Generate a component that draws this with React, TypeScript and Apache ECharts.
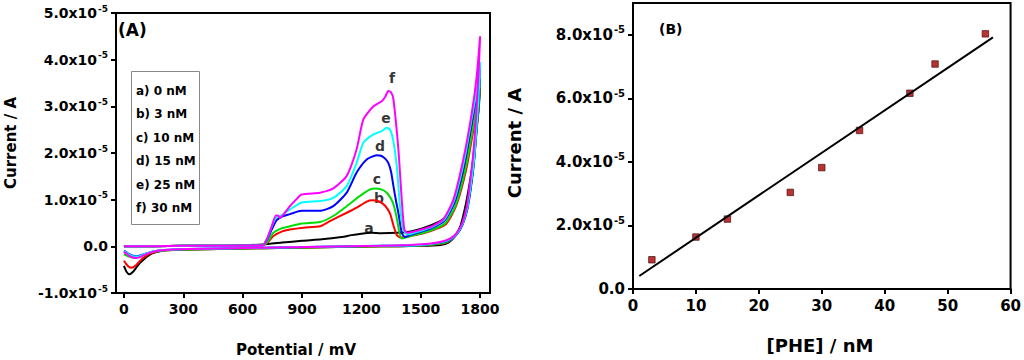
import { useEffect, useRef } from "react";
import * as echarts from "echarts";

// ---------- Panel A data (potential in mV, current in units of 1e-5 A) ----------
const potentialTicks = [0, 300, 600, 900, 1200, 1500, 1800];
const currentTicksA = [-1, 0, 1, 2, 3, 4, 5];
const curveNames = ["a", "b", "c", "d", "e", "f"];
const concLabels = ["a) 0 nM", "b) 3 nM", "c) 10 nM", "d) 15 nM", "e) 25 nM", "f) 30 nM"];

const fwdA = [[0,0],[150,0],[300,0.01],[450,0.01],[600,0.02],[700,0.04],[800,0.08],[900,0.12],[1000,0.15],[1100,0.2],[1150,0.24],[1200,0.27],[1250,0.29],[1300,0.28],[1380,0.29],[1450,0.32],[1550,0.45],[1625,0.62],[1675,1.0],[1725,1.75],[1765,2.65],[1789,3.1],[1800,3.4]];
const revA = [[1792,2.9],[1775,2.3],[1760,1.7],[1741,1.2],[1720,0.75],[1700,0.43],[1670,0.2],[1640,0.08],[1600,0.03],[1500,0.01],[1300,0],[1000,-0.02],[700,-0.04],[400,-0.06],[250,-0.08],[200,-0.09],[160,-0.13],[131,-0.18],[100,-0.28],[80,-0.36],[60,-0.47],[45,-0.55],[28,-0.6],[14,-0.55],[0,-0.42]];

const fwdB = [[0,0],[150,0],[300,0.01],[450,0.01],[600,0.02],[700,0.02],[730,0.1],[755,0.22],[800,0.32],[839,0.36],[907,0.4],[991,0.43],[1041,0.54],[1126,0.72],[1176,0.83],[1227,0.96],[1255,0.99],[1290,0.96],[1320,0.87],[1345,0.7],[1362,0.45],[1378,0.25],[1395,0.19],[1450,0.22],[1550,0.33],[1628,0.48],[1680,0.88],[1730,1.65],[1768,2.55],[1790,3.15],[1800,3.55]];
const revB = [[1793,3.0],[1781,2.4],[1767,1.75],[1750,1.2],[1731,0.76],[1708,0.45],[1680,0.25],[1648,0.12],[1612,0.06],[1500,0.02],[1300,0],[1000,-0.02],[700,-0.04],[400,-0.06],[250,-0.08],[200,-0.09],[160,-0.12],[130,-0.16],[100,-0.24],[80,-0.32],[60,-0.41],[39,-0.46],[22,-0.43],[10,-0.37],[0,-0.31]];

const fwdC = [[0,0],[150,0],[300,0.01],[450,0.01],[600,0.02],[700,0.02],[730,0.12],[755,0.29],[800,0.39],[839,0.43],[898,0.49],[991,0.52],[1058,0.65],[1126,0.86],[1193,1.08],[1244,1.22],[1269,1.24],[1300,1.22],[1328,1.15],[1350,1.02],[1365,0.86],[1380,0.58],[1392,0.3],[1404,0.17],[1450,0.22],[1550,0.34],[1625,0.5],[1678,0.9],[1728,1.7],[1766,2.6],[1789,3.2],[1800,3.6]];
const revC = [[1793,3.05],[1781,2.45],[1768,1.8],[1751,1.22],[1733,0.78],[1710,0.46],[1682,0.26],[1650,0.13],[1615,0.07],[1500,0.02],[1300,0],[1000,-0.02],[700,-0.04],[400,-0.06],[250,-0.08],[200,-0.09],[160,-0.11],[130,-0.14],[100,-0.19],[75,-0.23],[47,-0.24],[25,-0.22],[10,-0.19],[0,-0.17]];

const fwdD = [[0,0],[150,0],[300,0.01],[450,0.01],[600,0.02],[700,0.02],[725,0.15],[747,0.36],[772,0.56],[800,0.64],[839,0.69],[898,0.76],[991,0.76],[1058,0.86],[1126,1.15],[1176,1.58],[1227,1.86],[1277,1.95],[1299,1.94],[1320,1.88],[1336,1.79],[1350,1.6],[1362,1.29],[1376,0.95],[1387,0.72],[1404,0.29],[1420,0.2],[1450,0.25],[1550,0.38],[1620,0.55],[1672,0.95],[1722,1.8],[1762,2.75],[1787,3.35],[1800,3.9]];
const revD = [[1793,3.2],[1782,2.5],[1769,1.8],[1753,1.25],[1736,0.8],[1712,0.47],[1685,0.27],[1652,0.15],[1617,0.09],[1500,0.03],[1300,0.01],[1000,-0.01],[700,-0.03],[400,-0.05],[250,-0.07],[200,-0.08],[160,-0.1],[130,-0.13],[100,-0.17],[80,-0.2],[64,-0.21],[45,-0.2],[25,-0.16],[10,-0.12],[0,-0.1]];

const fwdE = [[0,0],[150,0],[300,0.01],[450,0.01],[600,0.02],[700,0.02],[725,0.18],[747,0.43],[768,0.61],[789,0.65],[839,0.79],[898,0.94],[991,0.97],[1058,1.04],[1126,1.29],[1176,1.79],[1210,2.22],[1261,2.4],[1303,2.47],[1328,2.54],[1345,2.5],[1360,2.3],[1379,1.72],[1395,0.86],[1412,0.36],[1429,0.26],[1450,0.27],[1550,0.4],[1620,0.58],[1670,1.0],[1720,1.85],[1760,2.8],[1785,3.4],[1800,3.95]];
const revE = [[1793,3.25],[1782,2.55],[1769,1.85],[1752,1.28],[1735,0.82],[1711,0.48],[1684,0.28],[1651,0.16],[1616,0.1],[1500,0.03],[1300,0.01],[1000,-0.01],[700,-0.03],[400,-0.05],[250,-0.07],[200,-0.08],[160,-0.1],[130,-0.13],[100,-0.17],[80,-0.21],[64,-0.22],[45,-0.21],[25,-0.17],[10,-0.13],[0,-0.11]];

const fwdF = [[0,0],[150,0],[300,0.01],[450,0.01],[600,0.02],[700,0.02],[725,0.18],[747,0.43],[768,0.66],[779,0.66],[789,0.61],[810,0.7],[839,0.86],[870,1.0],[898,1.11],[991,1.15],[1058,1.24],[1126,1.51],[1176,2.08],[1210,2.72],[1261,3.0],[1303,3.11],[1320,3.2],[1336,3.33],[1350,3.3],[1362,3.15],[1387,2.08],[1404,1.0],[1417,0.36],[1432,0.29],[1450,0.3],[1550,0.42],[1614,0.58],[1665,1.0],[1715,1.86],[1758,2.86],[1783,3.65],[1800,4.5]];
const revF = [[1792,3.7],[1780,2.8],[1766,2.0],[1750,1.4],[1733,0.86],[1710,0.5],[1682,0.29],[1650,0.17],[1614,0.11],[1550,0.06],[1450,0.03],[1300,0.01],[1000,-0.01],[700,-0.03],[400,-0.05],[250,-0.07],[180,-0.09],[130,-0.14],[100,-0.19],[80,-0.23],[64,-0.25],[45,-0.24],[25,-0.2],[10,-0.15],[0,-0.12]];

const curveLabelPos = [[1239, 0.39], [1289, 1.03], [1279, 1.44], [1294, 2.14], [1325, 2.74], [1355, 3.6]];

// ---------- Panel B data ([PHE] in nM, current in units of 1e-5 A) ----------
const pheConc = [3, 10, 15, 25, 30, 36, 44, 48, 56];
const pheCurrent = [0.92, 1.635, 2.2, 3.04, 3.82, 4.99, 6.16, 7.08, 8.03];
const fitLine = [[1, 0.41], [57.2, 7.92]];
const concTicks = [0, 10, 20, 30, 40, 50, 60];
const currentTicksB = [0, 2, 4, 6, 8];

// ---------- styles ----------
const curveColors = ["#000000", "#ff0000", "#00dd00", "#0000ff", "#00ffff", "#ff00ff"];
const FONT = "DejaVu Sans";

export default function App() {
  const ref = useRef<HTMLDivElement>(null);
  useEffect(() => {
    if (!ref.current) return;
    const chart = echarts.init(ref.current, undefined, { renderer: "svg" });
    const loops = [
      [fwdA, revA], [fwdB, revB], [fwdC, revC], [fwdD, revD], [fwdE, revE], [fwdF, revF],
    ];
    const yFmt = (v: number) => (Math.abs(v) < 1e-9 ? "{b|0.0}" : `{b|${v.toFixed(1)}x10}{s|-5}`);
    const xFmt = (v: number) => String(v);
    const richA = {
      b: { fontFamily: FONT, fontWeight: "bold", fontSize: 14, color: "#000", lineHeight: 18 },
      s: { fontFamily: FONT, fontWeight: "bold", fontSize: 9, color: "#000", verticalAlign: "top", padding: [0, 0, 0, 1] },
    };
    const richB = {
      b: { fontFamily: FONT, fontWeight: "bold", fontSize: 15, color: "#000", lineHeight: 20 },
      s: { fontFamily: FONT, fontWeight: "bold", fontSize: 10, color: "#000", verticalAlign: "top", padding: [0, 0, 0, 1] },
    };
    const axisCommon = {
      axisLine: { show: true, onZero: false, lineStyle: { color: "#000", width: 2 } },
      axisTick: { show: true, inside: false, length: 5, lineStyle: { color: "#000", width: 2 } },
      splitLine: { show: false },
    };
    const textStyle = (font: string, align: string) => ({
      fill: "#000", font, align, verticalAlign: "middle", textAlign: align, textVerticalAlign: "middle",
    });
    const option: any = {
      animation: false,
      backgroundColor: "#fff",
      grid: [
        { left: 116, top: 13, right: 534, bottom: 67, show: true, borderColor: "#000", borderWidth: 2 },
        { left: 633, top: 3, right: 12, bottom: 71, show: true, borderColor: "#000", borderWidth: 2 },
      ],
      xAxis: [
        {
          type: "value", gridIndex: 0, min: -40, max: 1850, ...axisCommon,
          axisTick: { ...axisCommon.axisTick, customValues: potentialTicks },
          axisLabel: { customValues: potentialTicks, formatter: xFmt, margin: 9, color: "#000", fontFamily: FONT, fontWeight: "bold", fontSize: 14 },
        },
        {
          type: "value", gridIndex: 1, min: 0, max: 60, interval: 10, ...axisCommon,
          axisTick: { ...axisCommon.axisTick, customValues: concTicks },
          axisLabel: { customValues: concTicks, formatter: xFmt, margin: 9, color: "#000", fontFamily: FONT, fontWeight: "bold", fontSize: 15 },
        },
      ],
      yAxis: [
        {
          type: "value", gridIndex: 0, min: -1, max: 5, interval: 1, ...axisCommon,
          axisTick: { ...axisCommon.axisTick, customValues: currentTicksA },
          axisLabel: { customValues: currentTicksA, margin: 8, formatter: yFmt, rich: richA },
        },
        {
          type: "value", gridIndex: 1, min: 0, max: 9, ...axisCommon,
          axisTick: { ...axisCommon.axisTick, customValues: currentTicksB },
          axisLabel: { customValues: currentTicksB, margin: 8, formatter: yFmt, rich: richB },
        },
      ],
      series: [
        ...loops.map((lp, i) => ({
          type: "line", xAxisIndex: 0, yAxisIndex: 0, name: curveNames[i],
          data: [...lp[0], ...lp[1]], showSymbol: false, smooth: 0.2,
          lineStyle: { color: curveColors[i], width: 2 }, itemStyle: { color: curveColors[i] },
        })),
        {
          type: "scatter", xAxisIndex: 0, yAxisIndex: 0, symbolSize: 1,
          itemStyle: { color: "rgba(0,0,0,0)" },
          data: curveLabelPos.map((p, i) => ({ value: p, name: curveNames[i] })),
          label: { show: true, position: "inside", formatter: "{b}", color: "#000", fontFamily: FONT, fontWeight: "bold", fontSize: 14 },
        },
        {
          type: "line", xAxisIndex: 1, yAxisIndex: 1, data: fitLine, showSymbol: false,
          lineStyle: { color: "#000", width: 2 },
        },
        {
          type: "scatter", xAxisIndex: 1, yAxisIndex: 1, symbol: "rect", symbolSize: 6.5,
          data: pheConc.map((c, i) => [c, pheCurrent[i]]),
          itemStyle: { color: "#a80000", borderColor: "#3a0000", borderWidth: 0.8 },
        },
      ],
      graphic: [
        { type: "text", x: 118, y: 30, style: { text: "(A)", ...textStyle(`bold 17px "${FONT}"`, "left") } },
        { type: "text", x: 659, y: 29, style: { text: "(B)", ...textStyle(`bold 14px "${FONT}"`, "left") } },
        { type: "rect", shape: { x: 131.5, y: 71.5, width: 68, height: 153 }, style: { fill: "#fff", stroke: "#888", lineWidth: 1 } },
        ...concLabels.map((t, i) => ({
          type: "text", x: 136, y: 91 + i * 23.4,
          style: { text: t, ...textStyle(`bold 12px "${FONT}"`, "left") },
        })),
        { type: "text", x: 11, y: 143, rotation: Math.PI / 2, style: { text: "Current / A", ...textStyle(`bold 15px "${FONT}"`, "center") } },
        { type: "text", x: 514, y: 143, rotation: Math.PI / 2, style: { text: "Current / A", ...textStyle(`bold 18px "${FONT}"`, "center") } },
        { type: "text", x: 296, y: 350, style: { text: "Potential / mV", ...textStyle(`bold 15px "${FONT}"`, "center") } },
        { type: "text", x: 820, y: 345, style: { text: "[PHE] / nM", ...textStyle(`bold 18px "${FONT}"`, "center") } },
      ],
    };
    chart.setOption(option);
    return () => chart.dispose();
  }, []);
  return <div ref={ref} style={{ position: "absolute", left: 0, top: 0, width: 1024, height: 360 }} />;
}
